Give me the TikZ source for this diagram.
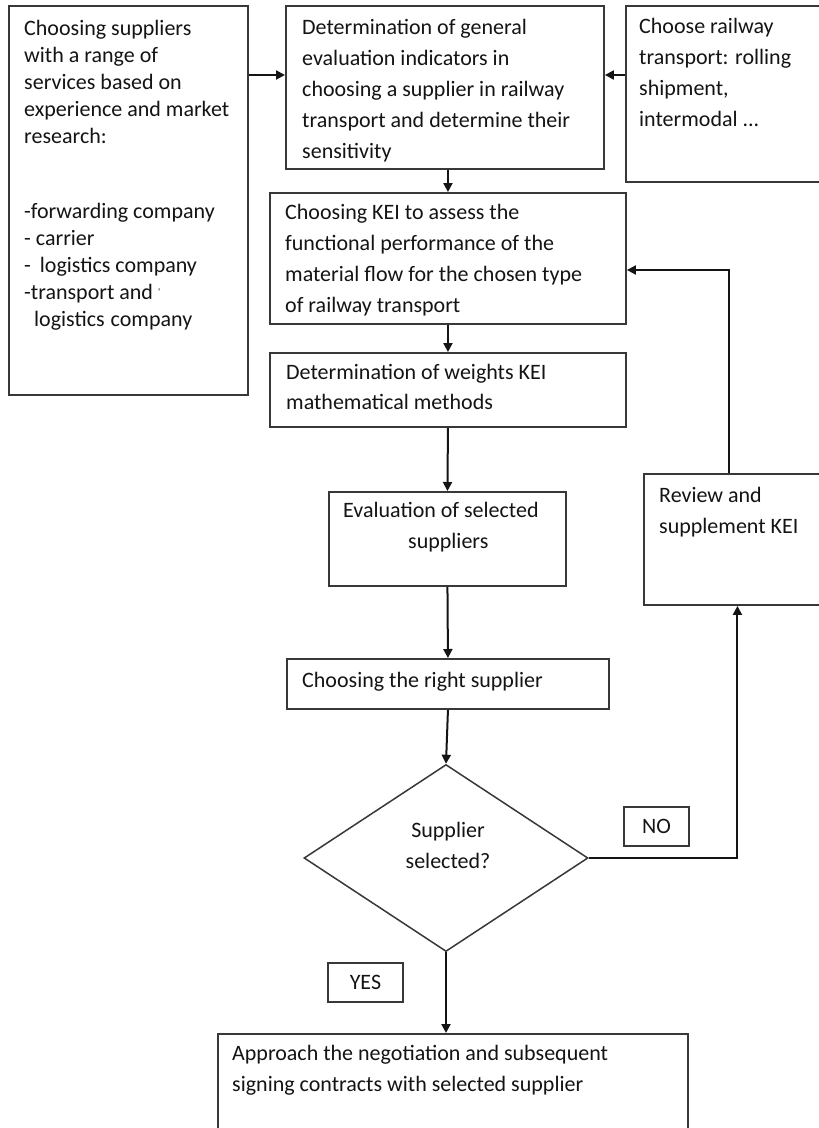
\documentclass[tikz,border=0pt]{standalone}
\usepackage{fontspec}
\setmainfont{Carlito}
\usetikzlibrary{arrows.meta,shapes.geometric}
\newcommand\btxt[2]{\parbox[t]{600pt}{\raggedright\fontsize{22pt}{#1}\selectfont #2}}
\begin{document}
\begin{tikzpicture}[x=1pt,y=-1pt,
  box/.style={draw=black!78, line width=1.9pt, inner sep=0pt, anchor=north west},
  txt/.style={inner sep=0pt, anchor=base west, text=black!92},
  arr/.style={draw=black!92, line width=2pt, -{Triangle[length=9pt,width=9pt]}},
  flag/.style={draw=black!78, line width=1.9pt, inner sep=0pt, anchor=north west, text=black!92, font=\fontsize{22pt}{26pt}\selectfont}]
\useasboundingbox (0,0) rectangle (819,1128);
\clip (0,0) rectangle (819,1128);
\fill[white] (0,0) rectangle (819,1128);

% boxes
\node[box, minimum width=239pt, minimum height=389pt] (A) at (8,5) {};
\node[box, minimum width=318pt, minimum height=163pt] (B) at (285,5) {};
\node[box, minimum width=205pt, minimum height=176pt] (C) at (625,5) {};
\node[box, minimum width=356pt, minimum height=131pt] (D) at (269,192) {};
\node[box, minimum width=356pt, minimum height=74pt] (E) at (269,352) {};
\node[box, minimum width=237pt, minimum height=94pt] (F) at (328,491) {};
\node[box, minimum width=187pt, minimum height=131pt] (R) at (643,473) {};
\node[box, minimum width=322pt, minimum height=50pt] (G) at (286,658) {};
\node[draw=black!78, line width=1.5pt, diamond, minimum width=284pt, minimum height=187pt, inner sep=0pt] (Q) at (446,858) {};
\node[box, minimum width=470pt, minimum height=130pt] (H) at (217,1033) {};
\node[flag, minimum width=65pt, minimum height=39pt] (NO) at (623,806) {NO};
\node[flag, minimum width=75pt, minimum height=39pt] (YES) at (327,962) {YES};

% texts
\node[txt] (At) at (24,35) {\btxt{27pt}{Choosing suppliers\\with a range of\\services based on\\experience and market\\research:\\[48pt]-forwarding company\\- carrier\\-\hspace{9pt}logistics company\\-transport and\hspace{5pt}\raisebox{4pt}{\fontsize{10pt}{10pt}\selectfont\textquotesingle}\\\hspace*{10pt}logistics\hspace{6pt}company}};
\node[txt] (Bt) at (302,34) {\btxt{31pt}{Determination of general\\evaluation indicators in\\choosing a supplier in railway\\transport and determine their\\sensitivity}};
\node[txt] (Ct) at (639,33) {\btxt{31pt}{Choose railway\\transport: rolling\\shipment,\\intermodal ...}};
\node[txt] (Dt) at (285,219) {\btxt{31pt}{Choosing KEI to assess the\\functional performance of the\\material flow for the chosen type\\of railway transport}};
\node[txt] (Et) at (286,379) {\btxt{30pt}{Determination of weights KEI\\mathematical methods}};
\node[txt] (Ft) at (343,517) {\btxt{31pt}{Evaluation of selected\\\hspace*{65pt}suppliers}};
\node[txt] (Rt) at (659,502) {\btxt{31pt}{Review and\\supplement KEI}};
\node[txt] (Gt) at (302,687) {\btxt{31pt}{Choosing the right supplier}};
\node[txt] (Ht) at (232,1060) {\btxt{31pt}{Approach the negotiation and subsequent\\signing contracts with selected supplier}};
\node[inner sep=0pt, anchor=base, text=black!92] (Qt) at (448,837) {\parbox[t]{200pt}{\centering\fontsize{22pt}{31pt}\selectfont Supplier\\selected?}};

% connectors
\draw[arr] ([yshift=-70pt]A.north east) -- ([yshift=-70pt]B.north west);
\draw[arr] ([yshift=-70pt]C.north west) -- ([yshift=-70pt]B.north east);
\draw[arr] (D.north |- B.south) -- (D.north);
\draw[arr] (D.south) -- (E.north);
\draw[arr] (E.south) -- (F.north);
\draw[arr] (F.south) -- (G.north);
\draw[arr] (G.south) -- (Q.north);
\draw[arr] (Q.south) -- (Q.south |- H.north);
\draw[arr] (Q.east) -| (R.south);
\draw[arr] ([xshift=-8.5pt]R.north) |- ([yshift=-78pt]D.north east);
\end{tikzpicture}
\end{document}
